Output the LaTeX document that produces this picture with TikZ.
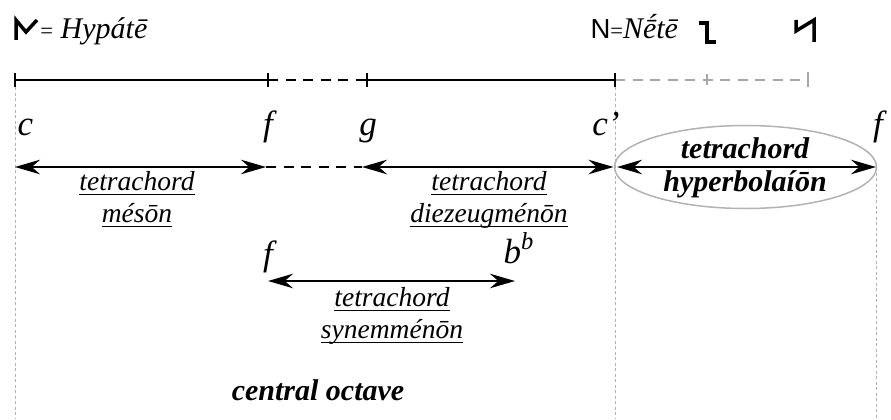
\documentclass[tikz,border=0pt]{standalone}
\usepackage{fontspec}
\setmainfont{Liberation Serif}
\newfontfamily\fonteSinal{Liberation Sans}
\usepackage{tikz}
\usetikzlibrary{arrows.meta,positioning,shapes.geometric}
\tikzset{
    nota/.style={
        font=\fontsize{14}{14}\selectfont\itshape,
        inner sep=0pt,
        anchor=base
    },
    titulo/.style={font=\fontsize{12}{12}\selectfont, inner sep=0pt, anchor=base west},
    rotulo/.style={
        font=\fontsize{11}{12.8}\selectfont\itshape,
        align=center,
        inner sep=0pt
    },
    destaque/.style={
        font=\fontsize{12}{13}\selectfont\bfseries\itshape,
        align=center,
        inner sep=0pt
    },
    seta/.style={{Stealth[length=10pt,width=5.8pt,inset=3.3pt]}-{Stealth[length=10pt,width=5.8pt,inset=3.3pt]}, line width=0.9pt},
    escala/.style={line width=1pt},
    tracejado/.style={line width=1pt, dash pattern=on 4pt off 3pt},
    tracejadoCinza/.style={draw=gray!70, line width=0.8pt, dash pattern=on 4pt off 3pt},
    guia/.style={draw=gray!60, line width=0.4pt, dash pattern=on 1.2pt off 1pt},
    moldura/.style={
        ellipse,
        draw=gray!60,
        line width=0.6pt,
        minimum width=104.8pt,
        minimum height=33.2pt,
        inner sep=0pt
    },
    sinal/.style={line width=1.4pt, line join=miter}
}
\newcommand{\sublinha}[1]{\underline{\smash{#1}}}
\newcommand{\igualPequeno}{{\fontsize{9}{9}\selectfont=}}

\begin{document}
\begin{tikzpicture}[x=0.4pt, y=-0.4pt]
    \useasboundingbox (0,0) rectangle (891,419);

    % sinais e nomes no topo
    \draw[sinal] (16,40) -- (16,20) -- (26,32) -- (37,20);
    \node[titulo] (hypate) at (40,39) {\igualPequeno\hspace{3pt}\textit{Hypátē}};
    \node[titulo] (nete) at (590,39) {{\fonteSinal\fontsize{11}{11}\selectfont N}\igualPequeno\textit{Nḗtē}};
    \draw[sinal] (699,23) -- (707,23) -- (707,42) -- (716,42);
    \draw[sinal] (796,20) -- (796,31) -- (814,20) -- (814,42);

    % escala superior
    \coordinate (e0) at (15,80);
    \coordinate (e1) at (268,80);
    \coordinate (e2) at (367,80);
    \coordinate (e3) at (615,80);
    \coordinate (e4) at (707,80);
    \coordinate (e5) at (808,80);
    \draw[escala] (e0) -- (e1);
    \draw[tracejado] (e1) -- (e2);
    \draw[escala] (e2) -- (e3);
    \draw[tracejadoCinza] (e3) -- (e5);
    \foreach \p in {e0,e1,e2,e3}
        \draw[escala] ([yshift=2.8pt]\p) -- ([yshift=-2.8pt]\p);
    \draw[tracejadoCinza, dash pattern={}] ([yshift=2.2pt]e4) -- ([yshift=-2.2pt]e4);
    \draw[tracejadoCinza, dash pattern={}] ([yshift=3pt]e5) -- ([yshift=-3pt]e5);

    % linhas-guia
    \coordinate (p0) at (15,419);
    \coordinate (p3) at (615,419);
    \coordinate (p4) at (876,419);
    \draw[guia] ([yshift=-3pt]e0) -- (p0);
    \draw[guia] ([yshift=-3pt]e3) -- (p3);

    % notas
    \node[nota, anchor=base west] (c1) at (17,135) {c};
    \node[nota] (f1) at (268,135) {f};
    \node[nota] (g1) at (368,135) {g};
    \node[nota] (c2) at (606,135) {c’};
    \node[nota] (f2) at (878,135) {f};
    \node[nota] (f3) at (268,265) {f};
    \node[nota, anchor=base west] (bb) at (503,263) {b\textsuperscript{b}};

    % tetracordes
    \coordinate (a0) at (15,167);
    \coordinate (a1) at (266,167);
    \coordinate (a2) at (362,167);
    \coordinate (a3) at (615,167);
    \coordinate (a4) at (876,167);
    \coordinate (b0) at (268,281);
    \coordinate (b1) at (515,281);
    \node[moldura] (hyper) at (745.5,167) {};
    \draw[guia] (a4) -- (p4);
    \draw[seta] (a0) -- (a1);
    \draw[tracejado, line width=0.9pt] (a1) -- (a2);
    \draw[seta, shorten >=0.6pt] (a2) -- (a3);
    \draw[seta, shorten <=0.8pt] (a3) -- (a4);
    \draw[seta] (b0) -- (b1);

    \node[rotulo] (meson) at (137,209) {\sublinha{tetrachord}\\\sublinha{mésōn}};
    \node[rotulo] (diezeug) at (489,209) {\sublinha{tetrachord}\\\sublinha{diezeugménōn}};
    \node[rotulo] (synem) at (392,325) {\sublinha{tetrachord}\\\sublinha{synemménōn}};
    \node[destaque] (hyperTexto) at (745,168) {tetrachord\\hyperbolaíōn};
    \node[destaque, anchor=base] (oitava) at (318,400) {central octave};
\end{tikzpicture}
\end{document}
